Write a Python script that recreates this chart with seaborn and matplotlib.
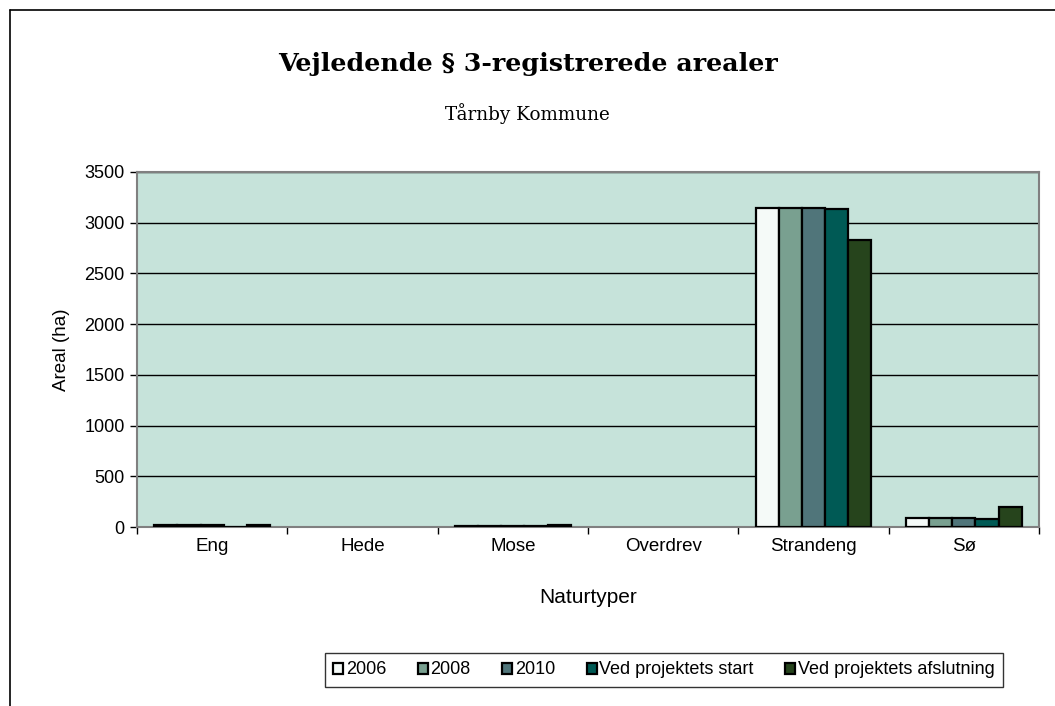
import pandas as pd
import matplotlib.pyplot as plt
from matplotlib.lines import Line2D
import seaborn as sns

categories = ['Eng', 'Hede', 'Mose', 'Overdrev', 'Strandeng', 'Sø']
series = ['2006', '2008', '2010', 'Ved projektets start', 'Ved projektets afslutning']
values = {
    '2006': [18, 0, 12, 0, 3145, 85],
    '2008': [18, 0, 12, 0, 3145, 85],
    '2010': [18, 0, 12, 0, 3145, 85],
    'Ved projektets start': [2, 0, 6, 0, 3138, 82],
    'Ved projektets afslutning': [18, 0, 20, 0, 2825, 195],
}
colors = ['#f5faf8', '#79a090', '#50757a', '#005a55', '#26441c']

rows = []
for s in series:
    for c, v in zip(categories, values[s]):
        rows.append({'Naturtype': c, 'Serie': s, 'Areal': v})
df = pd.DataFrame(rows)

sns.set_style('white')
plt.rcParams['font.family'] = ['Liberation Sans', 'DejaVu Sans']
plt.rcParams.update({'text.color': 'black', 'axes.labelcolor': 'black',
                     'xtick.color': 'black', 'ytick.color': 'black'})

fig = plt.figure(figsize=(10.55, 7.06), dpi=100)
ax = fig.add_axes([137 / 1055, 1 - 527 / 706, (1039 - 137) / 1055, (527 - 172) / 706])
ax.set_facecolor('#c6e3da')

sns.barplot(data=df, x='Naturtype', y='Areal', hue='Serie', order=categories,
            hue_order=series, palette=colors, saturation=1, width=0.77, gap=0,
            edgecolor='black', linewidth=1.6, ax=ax, legend=True, zorder=3)

# empty categories show no bar outline
for cont in ax.containers:
    for p in cont.patches:
        if p.get_height() == 0:
            p.set_linewidth(0)

ax.set_ylim(0, 3500)
ax.set_xlim(-0.5, 5.5)
ax.set_yticks(range(0, 3501, 500))
ax.yaxis.grid(True, color='black', linewidth=1)
ax.set_axisbelow(True)
ax.tick_params(axis='y', labelsize=13, length=5, width=1, left=True, pad=4)
ax.tick_params(axis='x', which='major', labelsize=13.5, length=0, pad=8)
ax.set_xticks([i + 0.5 for i in range(-1, 6)], minor=True)
ax.tick_params(axis='x', which='minor', length=5, width=1, bottom=True)
for side in ['top', 'right', 'left', 'bottom']:
    ax.spines[side].set_color('#808080')
    ax.spines[side].set_linewidth(1.5)

ax.set_xlabel('Naturtyper', fontsize=15, labelpad=24)
ax.set_ylabel('Areal (ha)', fontsize=13.5, labelpad=10)

fig.text(0.5, 1 - 64 / 706, 'Vejledende § 3-registrerede arealer', ha='center', va='center',
         fontsize=18.3, fontweight='bold', family='DejaVu Serif')
fig.text(0.5, 1 - 114 / 706, 'Tårnby Kommune', ha='center', va='center',
         fontsize=13.2, family='DejaVu Serif')

handles, labels = ax.get_legend_handles_labels()
ax.legend_.remove()
leg = fig.legend(handles, labels, loc='center', bbox_to_anchor=(664 / 1055, 1 - 670 / 706),
                 ncol=5, fontsize=13, frameon=True, fancybox=False, handlelength=0.55,
                 handleheight=0.55, handletextpad=0.15, columnspacing=1.75, borderpad=0.45)
leg.get_frame().set_edgecolor('black')
leg.get_frame().set_linewidth(1)
for h in leg.legend_handles:
    h.set_edgecolor('black')
    h.set_linewidth(1.6)

# outer chart frame
fig.add_artist(Line2D([10 / 1055, 1], [1 - 10 / 706, 1 - 10 / 706], color='black', linewidth=1.2))
fig.add_artist(Line2D([10 / 1055, 10 / 1055], [0, 1 - 10 / 706], color='black', linewidth=1.2))

fig.savefig('out.png', dpi=100)
